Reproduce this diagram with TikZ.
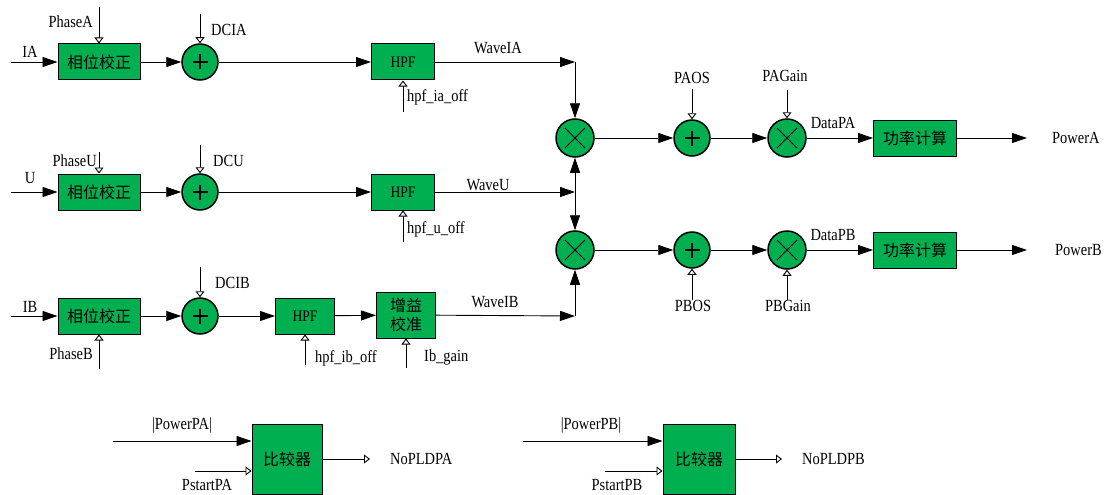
\documentclass[tikz,border=0pt]{standalone}
\usepackage{fontspec}
\setmainfont[FakeStretch=0.85]{Liberation Serif}
\newfontfamily\cjk{Noto Sans CJK SC}
\usetikzlibrary{arrows.meta}
\definecolor{vgreen}{HTML}{00B050}

\begin{document}
\begin{tikzpicture}[x=1pt, y=-1pt,
    box/.style={draw, line width=1pt, fill=vgreen, inner sep=0, minimum height=36pt,
        font=\cjk\fontsize{16}{18}\selectfont},
    sumnode/.style={circle, draw, line width=1.5pt, fill=vgreen, minimum size=36pt, inner sep=0,
        path picture={\draw[line width=2.4pt]
            ([xshift=-7.5pt]path picture bounding box.center) -- ([xshift=7.5pt]path picture bounding box.center)
            ([yshift=-7.5pt]path picture bounding box.center) -- ([yshift=7.5pt]path picture bounding box.center);}},
    mulnode/.style={circle, draw, line width=1.5pt, fill=vgreen, minimum size=38pt, inner sep=0,
        path picture={\draw[line width=0.8pt]
            ([shift={(-10pt,-10pt)}]path picture bounding box.center) -- ([shift={(10pt,10pt)}]path picture bounding box.center)
            ([shift={(-10pt,10pt)}]path picture bounding box.center) -- ([shift={(10pt,-10pt)}]path picture bounding box.center);}},
    lbl/.style={font=\fontsize{17}{19}\selectfont, inner sep=0},
    fl/.style={-{Triangle[length=15pt,width=10pt]}, line width=0.9pt},
    ol/.style={-{Triangle[open,length=6pt,width=9pt,fill=white]}, line width=0.9pt}]

    \useasboundingbox (0,0) rectangle (1111,495);

    % Row A: IA
    \node[box, minimum width=82pt] (phA) at (99,62) {相位校正};
    \node[sumnode] (sumA) at (200,62) {};
    \node[box, minimum width=63pt, font=\fontsize{16}{18}\selectfont] (hpfA) at (403,62) {HPF};
    \coordinate (inA) at (11,62);
    \coordinate (pA) at (99,7);
    \coordinate (dcA) at (200,14);
    \coordinate (hoA) at (403,112);
    \coordinate (jA) at (575,62);

    % Row U
    \node[box, minimum width=82pt] (phU) at (99,192) {相位校正};
    \node[sumnode] (sumU) at (200,192) {};
    \node[box, minimum width=63pt, font=\fontsize{16}{18}\selectfont] (hpfU) at (403,192) {HPF};
    \coordinate (inU) at (11,192);
    \coordinate (pU) at (99,152);
    \coordinate (dcU) at (200,145);
    \coordinate (hoU) at (403,242);
    \coordinate (jU) at (575,192);

    % Row B: IB
    \node[box, minimum width=82pt] (phB) at (99,316) {相位校正};
    \node[sumnode] (sumB) at (200,316) {};
    \node[box, minimum width=59pt, font=\fontsize{16}{18}\selectfont] (hpfB) at (305,316) {HPF};
    \node[box, minimum width=59pt, minimum height=46pt, align=center,
        font=\cjk\fontsize{16}{19}\selectfont] (gainB) at (406,315) {增益\\校准};
    \coordinate (inB) at (11,316);
    \coordinate (pB) at (99,369);
    \coordinate (dcB) at (200,267);
    \coordinate (hoB) at (305,365);
    \coordinate (igB) at (406,368);
    \coordinate (jB) at (575,316);

    % Power paths
    \node[mulnode] (mulA) at (575,138) {};
    \node[sumnode] (osA) at (692,138) {};
    \node[mulnode] (pgA) at (787,138) {};
    \node[box, minimum width=83pt] (pwrA) at (915,138) {功率计算};
    \coordinate (osAin) at (692,89);
    \coordinate (pgAin) at (787,90);
    \coordinate (outA) at (1027,138);

    \node[mulnode] (mulB) at (575,250) {};
    \node[sumnode] (osB) at (692,250) {};
    \node[mulnode] (pgB) at (787,250) {};
    \node[box, minimum width=83pt] (pwrB) at (915,250) {功率计算};
    \coordinate (osBin) at (692,300);
    \coordinate (pgBin) at (787,300);
    \coordinate (outB) at (1027,250);

    % Comparators
    \node[box, minimum width=70pt, minimum height=70pt] (cmpA) at (287,459) {比较器};
    \coordinate (pinA) at (113,441);
    \coordinate (stA) at (195,471);
    \coordinate (noA) at (370,459);
    \node[box, minimum width=72pt, minimum height=70pt] (cmpB) at (699,459) {比较器};
    \coordinate (pinB) at (523,441);
    \coordinate (stB) at (605,471);
    \coordinate (noB) at (782,459);

    % Connectors
    \draw[fl] (inA) -- (phA);
    \draw[fl] (phA) -- (sumA);
    \draw[fl] (sumA) -- (hpfA);
    \draw[fl] (hpfA) -- (jA);
    \draw[fl] (jA) -- (mulA);
    \draw[ol] (pA) -- (phA);
    \draw[ol] (dcA) -- (sumA);
    \draw[ol] (hoA) -- (hpfA);

    \draw[fl] (inU) -- (phU);
    \draw[fl] (phU) -- (sumU);
    \draw[fl] (sumU) -- (hpfU);
    \draw[fl] (hpfU) -- (jU);
    \draw[{Triangle[length=15pt,width=10pt]}-{Triangle[length=15pt,width=10pt]}, line width=0.9pt] (mulA) -- (mulB);
    \draw[ol] (pU) -- (phU);
    \draw[ol] (dcU) -- (sumU);
    \draw[ol] (hoU) -- (hpfU);

    \draw[fl] (inB) -- (phB);
    \draw[fl] (phB) -- (sumB);
    \draw[fl] (sumB) -- (hpfB);
    \draw[fl] (hpfB) -- (gainB);
    \draw[fl] (gainB) -- (jB);
    \draw[fl] (jB) -- (mulB);
    \draw[ol] (pB) -- (phB);
    \draw[ol] (dcB) -- (sumB);
    \draw[ol] (hoB) -- (hpfB);
    \draw[ol] (igB) -- (gainB);

    \draw[fl] (mulA) -- (osA);
    \draw[fl] (osA) -- (pgA);
    \draw[fl] (pgA) -- (pwrA);
    \draw[fl] (pwrA) -- (outA);
    \draw[ol] (osAin) -- (osA);
    \draw[ol] (pgAin) -- (pgA);

    \draw[fl] (mulB) -- (osB);
    \draw[fl] (osB) -- (pgB);
    \draw[fl] (pgB) -- (pwrB);
    \draw[fl] (pwrB) -- (outB);
    \draw[ol] (osBin) -- (osB);
    \draw[ol] (pgBin) -- (pgB);

    \draw[fl] (pinA) -- (pinA -| cmpA.west);
    \draw[ol] (stA) -- (stA -| cmpA.west);
    \draw[ol] (cmpA) -- (noA);
    \draw[fl] (pinB) -- (pinB -| cmpB.west);
    \draw[ol] (stB) -- (stB -| cmpB.west);
    \draw[ol] (cmpB) -- (noB);

    % Labels
    \node[lbl] (tIA) at (30,52) {IA};
    \node[lbl, anchor=east] (tPhA) at (93,22) {PhaseA};
    \node[lbl, anchor=west] (tDcA) at (211,30) {DCIA};
    \node[lbl] (tWA) at (498,48) {WaveIA};
    \node[lbl, anchor=west] (tHoA) at (407,97) {hpf\_ia\_off};

    \node[lbl] (tU) at (30,178) {U};
    \node[lbl, anchor=east] (tPhU) at (97,161) {PhaseU};
    \node[lbl, anchor=west] (tDcU) at (213,161) {DCU};
    \node[lbl] (tWU) at (488,185) {WaveU};
    \node[lbl, anchor=west] (tHoU) at (407,229) {hpf\_u\_off};

    \node[lbl] (tIB) at (30,307) {IB};
    \node[lbl, anchor=east] (tPhB) at (93,354) {PhaseB};
    \node[lbl, anchor=west] (tDcB) at (215,283) {DCIB};
    \node[lbl] (tWB) at (495,302) {WaveIB};
    \node[lbl, anchor=west] (tHoB) at (315,358) {hpf\_ib\_off};
    \node[lbl, anchor=west] (tIg) at (424,357) {Ib\_gain};

    \node[lbl] (tOsA) at (692,78) {PAOS};
    \node[lbl] (tPgA) at (785,76) {PAGain};
    \node[lbl] (tDA) at (833,123) {DataPA};
    \node[lbl, anchor=west] (tPA) at (1052,138) {PowerA};
    \node[lbl] (tOsB) at (693,306) {PBOS};
    \node[lbl] (tPgB) at (788,306) {PBGain};
    \node[lbl] (tDB) at (833,235) {DataPB};
    \node[lbl, anchor=west] (tPB) at (1055,250) {PowerB};

    \node[lbl] (tPinA) at (182,425) {|PowerPA|};
    \node[lbl] (tStA) at (207,485) {PstartPA};
    \node[lbl, anchor=west] (tNoA) at (390,459) {NoPLDPA};
    \node[lbl] (tPinB) at (591,425) {|PowerPB|};
    \node[lbl] (tStB) at (617,485) {PstartPB};
    \node[lbl, anchor=west] (tNoB) at (802,459) {NoPLDPB};

\end{tikzpicture}
\end{document}
